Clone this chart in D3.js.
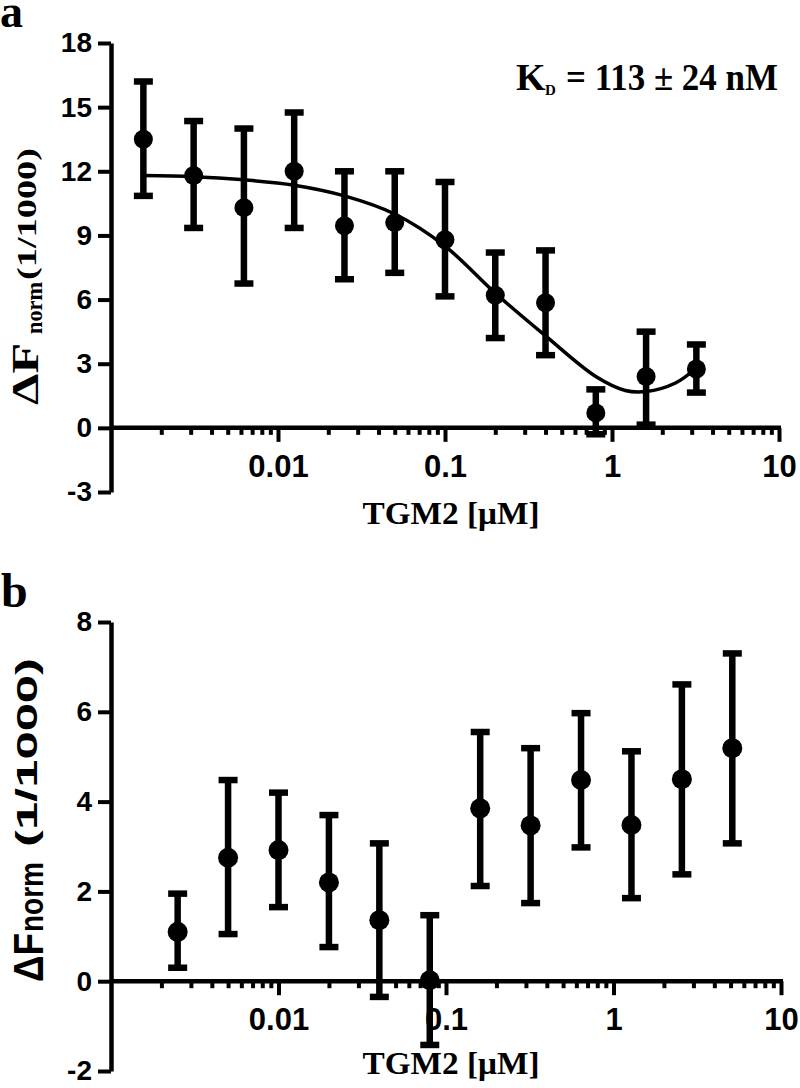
<!DOCTYPE html>
<html><head><meta charset="utf-8">
<script src="https://cdn.jsdelivr.net/npm/d3@7"></script>
<style>body{margin:0;background:#fff}svg{display:block}</style>
</head><body>
<svg id="chart" width="800" height="1088"></svg>
<script>
// ---- Panel a data ----
const concA  = [0.0015625, 0.003125, 0.00625, 0.0125, 0.025, 0.05, 0.1, 0.2, 0.4, 0.8, 1.6, 3.2];
const meanA  = [13.5, 11.8, 10.3, 12.0, 9.45, 9.6, 8.8, 6.2, 5.85, 0.7, 2.4, 2.75];
const upperA = [16.2, 14.35, 14.0, 14.75, 12.0, 12.0, 11.5, 8.2, 8.3, 1.8, 4.5, 3.9];
const lowerA = [10.85, 9.35, 6.75, 9.35, 6.95, 7.25, 6.15, 4.2, 3.4, -0.3, 0.15, 1.65];
const fitX   = [0.0015625, 0.003125, 0.00625, 0.0125, 0.025, 0.05, 0.1, 0.2, 0.4, 0.8, 1.2, 1.6, 2.4, 3.2];
const fitY   = [11.8, 11.75, 11.6, 11.35, 10.85, 10.0, 8.5, 6.3, 4.3, 2.4, 1.75, 1.7, 2.1, 2.8];
const yTicksA = [-3, 0, 3, 6, 9, 12, 15, 18];

// ---- Panel b data ----
const concB  = [0.0025, 0.005, 0.01, 0.02, 0.04, 0.08, 0.16, 0.32, 0.64, 1.28, 2.56, 5.12];
const meanB  = [1.1, 2.75, 2.92, 2.2, 1.36, 0.02, 3.85, 3.47, 4.48, 3.48, 4.5, 5.19];
const upperB = [1.95, 4.48, 4.2, 3.7, 3.07, 1.47, 5.55, 5.19, 5.97, 5.12, 6.61, 7.3];
const lowerB = [0.3, 1.05, 1.65, 0.76, -0.35, -1.42, 2.12, 1.74, 2.98, 1.85, 2.38, 3.07];
const yTicksB = [-2, 0, 2, 4, 6, 8];

// ---- shared axis labels ----
const xMajor = [0.01, 0.1, 1, 10];
const xMajorLabels = ["0.01", "0.1", "1", "10"];
const xTitle = "TGM2 [\u03BCM]";
const kdText = "= 113 \u00B1 24 nM";

const svg = d3.select("#chart");
const SANS = "'Liberation Sans', Arial, sans-serif";
const SERIF = "'Liberation Serif', 'Times New Roman', serif";

function panel(opt) {
  const x = d3.scaleLog().domain([0.001, 10]).range(opt.xRange);
  const y = d3.scaleLinear().domain(opt.yDomain).range(opt.yRange);
  const g = svg.append("g");

  // minor x ticks
  const minor = x.ticks().filter(v => !xMajor.includes(v) && v > 0.001);
  const xMinorAxis = d3.axisBottom(x).tickValues(minor).tickSize(7).tickFormat("");
  const gm = g.append("g").attr("transform", `translate(0,${y(0)})`).call(xMinorAxis);
  gm.select(".domain").remove();
  gm.selectAll(".tick line").attr("stroke", "#000").attr("stroke-width", 4);

  // major x axis
  const xAxis = d3.axisBottom(x).tickValues(xMajor).tickSize(14).tickSizeOuter(0).tickPadding(13)
    .tickFormat((d, i) => xMajorLabels[i]);
  const gx = g.append("g").attr("transform", `translate(0,${y(0)})`).call(xAxis);
  gx.select(".domain").attr("stroke", "#000").attr("stroke-width", 4.5)
    .attr("d", `M${opt.xRange[0]},0H${opt.xRange[1] + 2}`);
  gx.selectAll(".tick line").attr("stroke", "#000").attr("stroke-width", 4);
  gx.selectAll(".tick text").attr("font-family", SANS).attr("font-weight", "bold")
    .attr("font-size", 31).attr("fill", "#000");

  // y axis
  const yAxis = d3.axisLeft(y).tickValues(opt.yTicks).tickSize(13).tickSizeOuter(0).tickPadding(6)
    .tickFormat(d => String(d));
  const gy = g.append("g").attr("transform", `translate(${opt.xRange[0]},0)`).call(yAxis);
  gy.select(".domain").attr("stroke", "#000").attr("stroke-width", 4.5);
  gy.selectAll(".tick line").attr("stroke", "#000").attr("stroke-width", 4);
  gy.selectAll(".tick text").attr("font-family", SANS).attr("font-weight", "bold")
    .attr("font-size", 28).attr("fill", "#000");

  // fit curve
  if (opt.fitX) {
    const pts = opt.fitX.map((v, i) => [v, opt.fitY[i]]);
    g.append("path").datum(pts)
      .attr("d", d3.line().x(d => x(d[0])).y(d => y(d[1])).curve(d3.curveCatmullRom.alpha(0.5)))
      .attr("fill", "none").attr("stroke", "#000").attr("stroke-width", 3.5);
  }

  const data = opt.conc.map((c, i) => ({c, m: opt.mean[i], u: opt.upper[i], l: opt.lower[i]}));
  const eb = g.append("g").attr("stroke", "#000").attr("stroke-width", 6.5);
  eb.selectAll(".v").data(data).join("line")
    .attr("x1", d => x(d.c)).attr("x2", d => x(d.c)).attr("y1", d => y(d.u)).attr("y2", d => y(d.l));
  eb.selectAll(".cu").data(data).join("line")
    .attr("x1", d => x(d.c) - 9.5).attr("x2", d => x(d.c) + 9.5).attr("y1", d => y(d.u)).attr("y2", d => y(d.u));
  eb.selectAll(".cl").data(data).join("line")
    .attr("x1", d => x(d.c) - 9.5).attr("x2", d => x(d.c) + 9.5).attr("y1", d => y(d.l)).attr("y2", d => y(d.l));
  g.append("g").selectAll("circle").data(data).join("circle")
    .attr("cx", d => x(d.c)).attr("cy", d => y(d.m)).attr("r", opt.r).attr("fill", "#000");

  // x title
  g.append("text").attr("x", 451).attr("y", opt.xTitleY).attr("text-anchor", "middle")
    .attr("font-family", SERIF).attr("font-weight", "bold").attr("font-size", 31)
    .attr("textLength", 177).attr("lengthAdjust", "spacingAndGlyphs").text(xTitle);
  return {x, y, g};
}

const A = panel({xRange: [111, 779], yDomain: [-3, 18], yRange: [492, 43], yTicks: yTicksA,
  conc: concA, mean: meanA, upper: upperA, lower: lowerA, fitX, fitY, r: 9.5, xTitleY: 524});
const B = panel({xRange: [111, 781], yDomain: [-2, 8], yRange: [1071, 622], yTicks: yTicksB,
  conc: concB, mean: meanB, upper: upperB, lower: lowerB, r: 10, xTitleY: 1074});

// panel letters
svg.append("text").attr("x", 0).attr("y", 27).attr("font-family", SERIF).attr("font-weight", "bold")
  .attr("font-size", 46).text("a");
svg.append("text").attr("x", 1).attr("y", 607).attr("font-family", SERIF).attr("font-weight", "bold")
  .attr("font-size", 48).text("b");

// KD annotation
svg.append("text").attr("x", 516).attr("y", 90).attr("font-family", SERIF).attr("font-weight", "bold")
  .attr("font-size", 38).text("K");
svg.append("text").attr("x", 545).attr("y", 95).attr("font-family", SERIF).attr("font-weight", "bold")
  .attr("font-size", 15).text("D");
svg.append("text").attr("x", 566).attr("y", 90).attr("font-family", SERIF).attr("font-weight", "bold")
  .attr("font-size", 38).attr("textLength", 212).attr("lengthAdjust", "spacingAndGlyphs").text(kdText);

// rotated y titles built from pieces
function rotPiece(bx, startY, len, size, family, txt) {
  svg.append("text").attr("transform", `translate(${bx},${startY}) rotate(-90)`)
    .attr("font-family", family).attr("font-weight", "bold").attr("font-size", size)
    .attr("textLength", len).attr("lengthAdjust", "spacingAndGlyphs").text(txt);
}
// panel a (serif)
rotPiece(38, 405, 62, 38, SERIF, "\u0394F");
rotPiece(42, 334, 52, 23, SERIF, "norm");
rotPiece(36, 280, 132, 27, SERIF, "(1/1000)");
// panel b (sans)
rotPiece(43, 982, 49, 42, SANS, "\u0394F");
rotPiece(43, 932, 70, 34, SANS, "norm");
rotPiece(37, 847, 189, 30, SANS, "(1/1000)");
</script>
</body></html>
